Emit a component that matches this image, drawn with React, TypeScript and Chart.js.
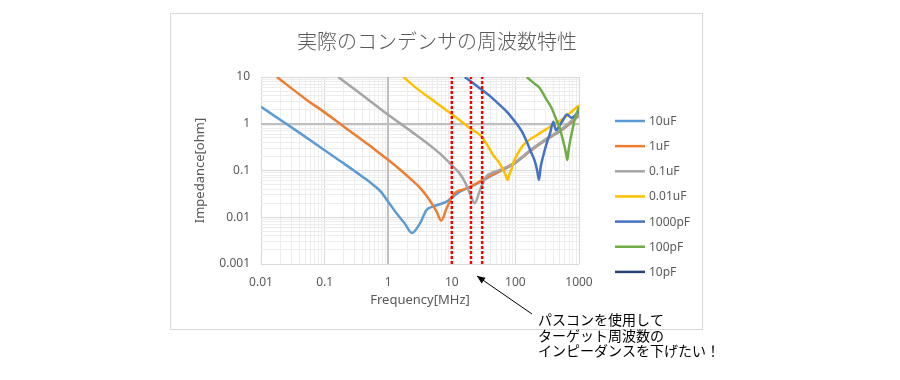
import React, { useEffect, useRef } from 'react';
import { Chart, registerables } from 'chart.js';

Chart.register(...registerables);

const chartTitle = '実際のコンデンサの周波数特性';
const xAxisTitle = 'Frequency[MHz]';
const yAxisTitle = 'Impedance[ohm]';
const seriesLabels = ['10uF', '1uF', '0.1uF', '0.01uF', '1000pF', '100pF', '10pF'];
const seriesColors = ['#5B9BD5', '#ED7D31', '#A5A5A5', '#FFC000', '#4472C4', '#70AD47', '#264478'];

const freq10uF = [0.01, 0.02, 0.041, 0.1, 0.2, 0.32, 0.5, 0.74, 1.0, 1.36, 1.8, 2.37, 3.16, 4.0, 5.1, 6.5, 8.3, 10, 12, 15, 20, 30, 40, 60, 100, 170, 310, 570, 1000];
const imp10uF = [2.3, 1.22, 0.63, 0.27, 0.142, 0.09, 0.058, 0.037, 0.0215, 0.012, 0.0075, 0.0046, 0.0074, 0.0143, 0.017, 0.019, 0.0215, 0.026, 0.032, 0.038, 0.045, 0.06, 0.075, 0.1, 0.145, 0.26, 0.46, 0.78, 1.5];

const freq1uF = [0.0177, 0.05, 0.1, 0.175, 0.3, 0.5, 0.74, 1.0, 1.5, 2.2, 3.2, 4.5, 5.8, 6.8, 8.3, 10, 11.9, 15, 20, 30, 40, 60, 100, 170, 310, 570, 1000];
const imp1uF = [10, 3.4, 1.75, 1.0, 0.58, 0.35, 0.23, 0.168, 0.108, 0.068, 0.042, 0.023, 0.013, 0.0085, 0.0155, 0.027, 0.035, 0.039, 0.046, 0.062, 0.077, 0.1, 0.15, 0.26, 0.47, 0.8, 1.55];

const freq01uF = [0.164, 0.3, 0.5, 1.0, 1.6, 2.5, 3.6, 5, 7, 10, 13, 16, 19.3, 23, 27.7, 35, 40, 60, 100, 170, 310, 570, 1000];
const imp01uF = [10, 5.4, 3.2, 1.55, 0.98, 0.63, 0.44, 0.31, 0.21, 0.13, 0.09, 0.058, 0.032, 0.02, 0.038, 0.075, 0.085, 0.105, 0.15, 0.27, 0.48, 0.82, 1.65];

const freq001uF = [1.73, 3, 5, 10, 15, 19.3, 29.5, 37, 45, 55, 65, 70, 75.7, 81, 87.5, 95, 105, 133, 216, 350, 568, 1000];
const imp001uF = [10, 5.3, 3.2, 1.6, 1.05, 0.8, 0.53, 0.33, 0.21, 0.15, 0.1, 0.08, 0.063, 0.085, 0.11, 0.16, 0.21, 0.35, 0.57, 0.86, 1.3, 2.5];

const freq1000pF = [16, 20, 27.7, 40, 57, 75, 98.6, 125, 151, 180, 203, 220, 235, 250, 275, 310, 350, 395, 435, 500, 570, 640, 767, 1000];
const imp1000pF = [10, 8, 5.7, 3.9, 2.5, 1.75, 1.1, 0.7, 0.41, 0.23, 0.155, 0.1, 0.063, 0.12, 0.21, 0.38, 0.62, 1.1, 0.73, 0.94, 1.25, 1.58, 1.35, 1.85];

const freq100pF = [151, 200, 244, 300, 372, 440, 500, 560, 602, 630, 655, 680, 721, 790, 865, 1000];
const imp100pF = [10, 7.2, 5.7, 3.5, 2.14, 1.22, 0.8, 0.44, 0.3, 0.22, 0.168, 0.25, 0.41, 0.75, 1.3, 2.3];

const freq10pF = [100, 1000];
const imp10pF = [160, 16];

const seriesFreqs = [freq10uF, freq1uF, freq01uF, freq001uF, freq1000pF, freq100pF, freq10pF];
const seriesImps = [imp10uF, imp1uF, imp01uF, imp001uF, imp1000pF, imp100pF, imp10pF];

const markerFreqs = [10, 20, 30];

const xTickValues = [0.01, 0.1, 1, 10, 100, 1000];
const xTickLabels = ['0.01', '0.1', '1', '10', '100', '1000'];
const yTickValues = [0.001, 0.01, 0.1, 1, 10];
const yTickLabels = ['0.001', '0.01', '0.1', '1', '10'];
const axisCross = 1;

const noteLines = ['パスコンを使用して', 'ターゲット周波数の', 'インピーダンスを下げたい！'];

const TEXT_GRAY = '#595959';
const LATIN = '"Noto Sans", "Liberation Sans", sans-serif';
const CJK = '"Noto Sans CJK JP", "Noto Sans", sans-serif';

function buildLogTicks(decades: number[]) {
  const out: { value: number }[] = [];
  for (let i = 0; i < decades.length - 1; i++) {
    for (let k = 1; k <= 9; k++) out.push({ value: decades[i] * k });
  }
  out.push({ value: decades[decades.length - 1] });
  return out;
}

function labelFor(values: number[], labels: string[], v: number) {
  const i = values.findIndex((t) => Math.abs(t - v) / t < 1e-6);
  return i >= 0 ? labels[i] : '';
}

function isDecade(v: number) {
  const l = Math.log10(v);
  return Math.abs(l - Math.round(l)) < 1e-6;
}

function gridColor(ctx: any) {
  const v = ctx.tick ? ctx.tick.value : null;
  if (v == null) return '#EDEDED';
  if (isDecade(v)) return '#D9D9D9';
  return '#EDEDED';
}

const decorPlugin = {
  id: 'decor',
  beforeDraw(chart: any) {
    const ctx = chart.ctx;
    ctx.save();
    ctx.fillStyle = '#FFFFFF';
    ctx.fillRect(0, 0, chart.width, chart.height);
    ctx.strokeStyle = '#D9D9D9';
    ctx.lineWidth = 1;
    ctx.strokeRect(170.5, 13.5, 532, 316);
    ctx.fillStyle = TEXT_GRAY;
    ctx.font = '300 20px ' + CJK;
    ctx.textAlign = 'center';
    ctx.textBaseline = 'middle';
    ctx.fillText(chartTitle, 437, 41);
    ctx.restore();
  },
  beforeDatasetsDraw(chart: any) {
    const ctx = chart.ctx;
    const { left, right, top, bottom } = chart.chartArea;
    const xp = Math.round(chart.scales.x.getPixelForValue(axisCross));
    const yp = Math.round(chart.scales.y.getPixelForValue(axisCross));
    ctx.save();
    ctx.strokeStyle = '#BFBFBF';
    ctx.lineWidth = 2;
    ctx.beginPath();
    ctx.moveTo(left, yp);
    ctx.lineTo(right, yp);
    ctx.moveTo(xp, top);
    ctx.lineTo(xp, bottom);
    ctx.stroke();
    ctx.restore();
  },
  afterDraw(chart: any) {
    const ctx = chart.ctx;
    ctx.save();
    // legend
    ctx.font = '12px ' + LATIN;
    ctx.textAlign = 'left';
    ctx.textBaseline = 'middle';
    for (let i = 0; i < seriesLabels.length; i++) {
      const y = 121 + i * 25.15;
      ctx.strokeStyle = seriesColors[i];
      ctx.lineWidth = 2.5;
      ctx.beginPath();
      ctx.moveTo(615, y);
      ctx.lineTo(645, y);
      ctx.stroke();
      ctx.fillStyle = TEXT_GRAY;
      ctx.fillText(seriesLabels[i], 649, y + 0.5);
    }
    // arrow
    const hx = 477, hy = 276, tx = 532, ty = 314;
    ctx.strokeStyle = '#000000';
    ctx.fillStyle = '#000000';
    ctx.lineWidth = 1;
    ctx.beginPath();
    ctx.moveTo(tx, ty);
    ctx.lineTo(hx, hy);
    ctx.stroke();
    const ang = Math.atan2(hy - ty, hx - tx);
    const L = 8, W = 3.5;
    ctx.beginPath();
    ctx.moveTo(hx, hy);
    ctx.lineTo(hx - L * Math.cos(ang) + W * Math.sin(ang), hy - L * Math.sin(ang) - W * Math.cos(ang));
    ctx.lineTo(hx - L * Math.cos(ang) - W * Math.sin(ang), hy - L * Math.sin(ang) + W * Math.cos(ang));
    ctx.closePath();
    ctx.fill();
    // note text
    ctx.font = '14px ' + CJK;
    ctx.fillStyle = '#000000';
    ctx.textAlign = 'left';
    ctx.textBaseline = 'middle';
    noteLines.forEach((line, i) => ctx.fillText(line, 538, 320 + i * 15.5));
    ctx.restore();
  },
};

export default function App() {
  const canvasRef = useRef<HTMLCanvasElement | null>(null);

  useEffect(() => {
    if (!canvasRef.current) return;
    const datasets: any[] = seriesLabels.map((label, i) => ({
      label,
      data: seriesFreqs[i].map((x, j) => ({ x, y: seriesImps[i][j] })),
      borderColor: seriesColors[i],
      backgroundColor: seriesColors[i],
      borderWidth: 2.5,
      pointRadius: 0,
      fill: false,
      cubicInterpolationMode: 'monotone',
      order: 20 - i,
    }));
    markerFreqs.forEach((f) => {
      datasets.push({
        label: '',
        data: [
          { x: f, y: yTickValues[0] },
          { x: f, y: yTickValues[yTickValues.length - 1] },
        ],
        borderColor: '#FF0000',
        borderWidth: 2.5,
        borderDash: [3, 2],
        pointRadius: 0,
        fill: false,
        order: 0,
      });
    });

    const chart = new Chart(canvasRef.current, {
      type: 'line',
      data: { datasets },
      options: {
        animation: false,
        responsive: false,
        events: [],
        layout: { padding: { left: 170, right: 321, top: 77, bottom: 66 } },
        plugins: {
          legend: { display: false },
          tooltip: { enabled: false },
          title: { display: false },
        },
        scales: {
          x: {
            type: 'logarithmic',
            min: xTickValues[0],
            max: xTickValues[xTickValues.length - 1],
            afterBuildTicks: (scale: any) => {
              scale.ticks = buildLogTicks(xTickValues);
            },
            afterFit: (scale: any) => {
              scale.height = 50;
            },
            ticks: {
              autoSkip: false,
              maxRotation: 0,
              padding: 11,
              color: TEXT_GRAY,
              font: { family: LATIN, size: 12 },
              callback: (v: any) => labelFor(xTickValues, xTickLabels, Number(v)),
            },
            grid: { color: gridColor, lineWidth: 1, drawTicks: false },
            border: { display: false },
            title: {
              display: true,
              text: xAxisTitle,
              color: TEXT_GRAY,
              font: { family: LATIN, size: 13 },
              padding: { top: 0, bottom: 6 },
            },
          },
          y: {
            type: 'logarithmic',
            min: yTickValues[0],
            max: yTickValues[yTickValues.length - 1],
            afterBuildTicks: (scale: any) => {
              scale.ticks = buildLogTicks(yTickValues);
            },
            afterFit: (scale: any) => {
              scale.width = 91;
            },
            ticks: {
              autoSkip: false,
              padding: 11,
              color: TEXT_GRAY,
              font: { family: LATIN, size: 12 },
              callback: (v: any) => labelFor(yTickValues, yTickLabels, Number(v)),
            },
            grid: { color: gridColor, lineWidth: 1, drawTicks: false },
            border: { display: false },
            title: {
              display: true,
              text: yAxisTitle,
              color: TEXT_GRAY,
              font: { family: LATIN, size: 13 },
              padding: { top: 22, bottom: 0 },
            },
          },
        },
      } as any,
      plugins: [decorPlugin],
    });
    return () => chart.destroy();
  }, []);

  return (
    <div style={{ position: 'absolute', left: 0, top: 0, width: 900, height: 380 }}>
      <canvas ref={canvasRef} width={900} height={380} style={{ width: 900, height: 380, display: 'block' }} />
    </div>
  );
}
